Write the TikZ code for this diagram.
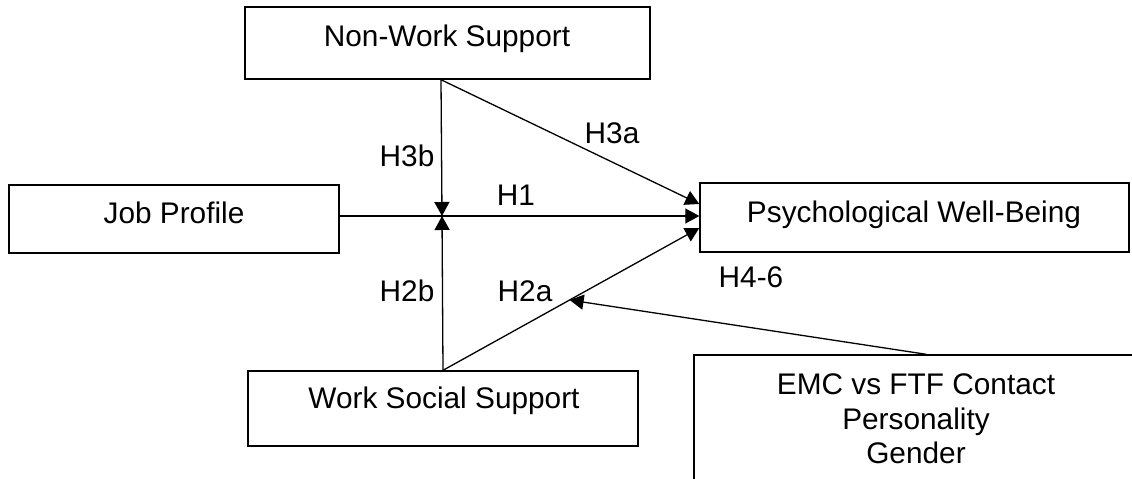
\documentclass[tikz,border=0pt]{standalone}
\usepackage{fontspec}
\setmainfont{Liberation Sans}
\usetikzlibrary{arrows.meta}
\begin{document}
\begin{tikzpicture}[x=1pt,y=-1pt,
  box/.style={draw, line width=1.4pt, rectangle, inner sep=0pt},
  txt/.style={font=\fontsize{29.8}{34}\selectfont, inner sep=0pt, anchor=base},
  conn/.style={line width=1.3pt},
  arr/.style={conn, -{Triangle[length=14pt,width=15pt]}}
]
\useasboundingbox (0,0) rectangle (1132,479);
\clip (0,0) rectangle (1132,479);
% boxes
\node[box, minimum width=405pt, minimum height=72pt] (nw) at (447.5,43) {};
\node[box, minimum width=330pt, minimum height=68pt] (jp) at (174,219) {};
\node[box, minimum width=429pt, minimum height=69pt] (pw) at (914.5,217.5) {};
\node[box, minimum width=390pt, minimum height=75pt] (ws) at (443,408.5) {};
\node[box, minimum width=506pt, minimum height=185pt] (emc) at (947,447.5) {};
% texts
\node[txt] (nwt) at (447,46) {Non-Work Support};
\node[txt] (jpt) at (174,223) {Job Profile};
\node[txt] (pwt) at (914,222) {Psychological Well-Being};
\node[txt] (wst) at (444,408) {Work Social Support};
\node[txt] (emc1) at (916,394) {EMC vs FTF Contact};
\node[txt] (emc2) at (916,429) {Personality};
\node[txt] (emc3) at (916,463) {Gender};
% connector points
\coordinate (jpo) at ([yshift=3pt]jp.east);
\coordinate (pwm) at (jpo -| pw.west);
\coordinate (pwu) at ([yshift=12pt]pwm);
\coordinate (pwl) at ([yshift=-12pt]pwm);
\coordinate (nwb) at ([xshift=-6.5pt]nw.south);
\coordinate (wsb) at (ws.north);
\coordinate (mid) at (jpo -| 442,0);
\coordinate (emct) at ([xshift=233pt]emc.north west);
\path (wsb) -- (pwl) coordinate[pos=0.494] (h2p);
% connectors
\draw[arr] (jpo) -- (pwm);
\draw[arr] (nwb) -- (mid);
\draw[arr] (wsb) -- (mid);
\draw[arr] (nwb) -- (pwu);
\draw[arr] (wsb) -- (pwl);
\draw[arr] (emct) -- (h2p);
% labels
\node[txt] (h3b) at (407,166) {H3b};
\node[txt] (h1) at (516,205) {H1};
\node[txt] (h3a) at (612,143) {H3a};
\node[txt] (h2b) at (407,301) {H2b};
\node[txt] (h2a) at (525,301) {H2a};
\node[txt] (h46) at (751,287) {H4-6};
\end{tikzpicture}
\end{document}
